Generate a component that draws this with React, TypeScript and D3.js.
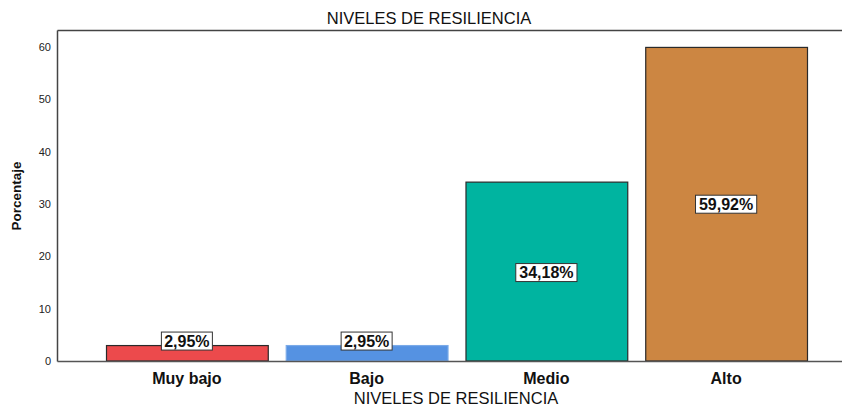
import React from "react";
import * as d3 from "d3";

const categories = ["Muy bajo", "Bajo", "Medio", "Alto"];
const values = [2.95, 2.95, 34.18, 59.92];
const labels = ["2,95%", "2,95%", "34,18%", "59,92%"];
const colors = ["#ec4a4c", "#5592e2", "#00b4a0", "#cc8642"];
const strokes = ["#2a2a2a", "#7aaae8", "#2a2a2a", "#2a2a2a"];
const yTicks = [0, 10, 20, 30, 40, 50, 60];

const W = 842;
const H = 407;
const FONT = "'Liberation Sans', Arial, sans-serif";

export default function App() {
  const x = d3.scaleBand<string>().domain(categories).range([106, 807]).paddingInner(0.1).paddingOuter(0);
  const y = d3.scaleLinear().domain([0, 60]).range([361, 47]);
  const left = 57.5;
  const top = 30.5;
  const bottom = y(0) + 0.5;
  return (
    <div style={{ position: "fixed", left: 0, top: 0, width: W, height: H, overflow: "hidden" }}>
      <svg width={W} height={H} style={{ display: "block", background: "#fff" }}>
        <text x={429} y={24} textAnchor="middle" fontFamily={FONT} fontSize={16.5} fill="#111">NIVELES DE RESILIENCIA</text>
        <line x1={left} x2={W} y1={top} y2={top} stroke="#444" strokeWidth={1.5} />
        <line x1={left} x2={left} y1={top} y2={bottom} stroke="#444" strokeWidth={1.5} />
        {yTicks.map((t) => (
          <text key={t} x={51} y={y(t) + 4} textAnchor="end" fontFamily={FONT} fontSize={11} fill="#222">{t}</text>
        ))}
        <text transform={`translate(21,196) rotate(-90)`} textAnchor="middle" fontFamily={FONT} fontSize={13.5} fontWeight="bold" fill="#111">Porcentaje</text>
        {categories.map((c, i) => {
          const bx = x(c)!;
          const bw = x.bandwidth();
          const by = y(values[i]);
          return (
            <rect key={c} x={bx + 0.5} y={by} width={bw} height={y(0) - by} fill={colors[i]} stroke={strokes[i]} strokeWidth={1.2} />
          );
        })}
        <line x1={left} x2={W} y1={bottom} y2={bottom} stroke="#555" strokeWidth={1.5} />
        {categories.map((c, i) => {
          const cx = x(c)! + x.bandwidth() / 2;
          const by = y(values[i]);
          const cy = values[i] < 10 ? by - 4.5 : (by + y(0)) / 2 + (values[i] < 50 ? 1 : 0);
          const w = labels[i].length * 10.2;
          return (
            <g key={c + "l"}>
              <rect x={cx - w / 2} y={cy - 9} width={w} height={18} fill="#fff" stroke="#333" strokeWidth={1} />
              <text x={cx} y={cy + 5.5} textAnchor="middle" fontFamily={FONT} fontSize={16} fontWeight="bold" fill="#111">{labels[i]}</text>
            </g>
          );
        })}
        {categories.map((c) => (
          <text key={c + "t"} x={x(c)! + x.bandwidth() / 2} y={384} textAnchor="middle" fontFamily={FONT} fontSize={16} fontWeight="bold" fill="#111">{c}</text>
        ))}
        <text x={456} y={404} textAnchor="middle" fontFamily={FONT} fontSize={16.5} fill="#111">NIVELES DE RESILIENCIA</text>
      </svg>
    </div>
  );
}
